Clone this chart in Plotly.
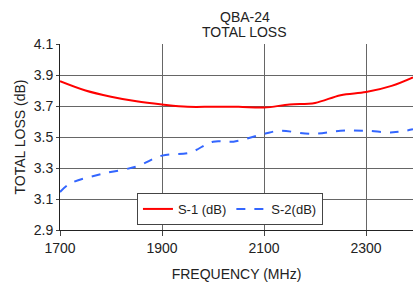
import plotly.graph_objects as go

freq = [1700, 1750, 1800, 1850, 1900, 1950, 2000, 2050, 2100, 2150, 2200, 2250, 2300, 2350, 2392]
s1 = [3.86, 3.80, 3.76, 3.73, 3.71, 3.695, 3.695, 3.695, 3.69, 3.71, 3.72, 3.77, 3.79, 3.83, 3.885]

freq2 = [1700, 1720, 1780, 1850, 1900, 1955, 2000, 2040, 2100, 2130, 2195, 2250, 2300, 2353, 2392]
s2 = [3.145, 3.20, 3.26, 3.31, 3.38, 3.40, 3.47, 3.47, 3.52, 3.54, 3.52, 3.54, 3.54, 3.53, 3.55]

x_ticks = [1700, 1900, 2100, 2300]
y_ticks = [2.9, 3.1, 3.3, 3.5, 3.7, 3.9, 4.1]

fig = go.Figure()
fig.add_trace(go.Scatter(x=freq, y=s1, mode="lines", name="S-1 (dB)",
                         line=dict(color="#ff0000", width=2, shape="spline")))
fig.add_trace(go.Scatter(x=freq2, y=s2, mode="lines", name="S-2(dB)",
                         line=dict(color="#3366ff", width=2, dash="dash", shape="spline")))

font = "Liberation Sans, Arial, sans-serif"
fig.update_layout(
    width=413, height=283,
    margin=dict(l=60, r=0, t=44, b=53, autoexpand=False),
    paper_bgcolor="white", plot_bgcolor="white",
    font=dict(family=font, color="#222", size=14),
    showlegend=True,
    legend=dict(orientation="h", x=0.218, y=0.027, xanchor="left", yanchor="bottom",
                bgcolor="white", bordercolor="#444", borderwidth=1,
                font=dict(size=13, family=font), itemwidth=30),
    annotations=[
        dict(text="QBA-24", xref="paper", yref="paper", x=0.523, y=1.0,
             yshift=17, xanchor="center", yanchor="bottom", showarrow=False,
             font=dict(size=14, family=font, color="#222")),
        dict(text="TOTAL LOSS", xref="paper", yref="paper", x=0.523, y=1.0,
             yshift=2, xanchor="center", yanchor="bottom", showarrow=False,
             font=dict(size=14, family=font, color="#222")),
    ],
)
fig.update_xaxes(range=[1700, 2392], tickvals=x_ticks, showgrid=True, gridcolor="#666", gridwidth=1,
                 showline=True, linecolor="#222", linewidth=1, mirror=False, zeroline=False,
                 ticks="outside", ticklen=5, tickcolor="#444", automargin=False,
                 title=dict(text="FREQUENCY (MHz)", font=dict(size=14), standoff=14))
fig.update_yaxes(range=[2.9, 4.1], tickvals=y_ticks, tickformat=".1f", showgrid=True, gridcolor="#666",
                 gridwidth=1, showline=True, linecolor="#222", linewidth=1, zeroline=False,
                 ticks="outside", ticklen=3, tickcolor="#444", automargin=False,
                 title=dict(text="TOTAL LOSS (dB)", font=dict(size=14), standoff=4))
fig.write_html("out.html", config={"displayModeBar": False},
               post_script="document.body.style.margin='0';document.body.style.overflow='hidden';")
